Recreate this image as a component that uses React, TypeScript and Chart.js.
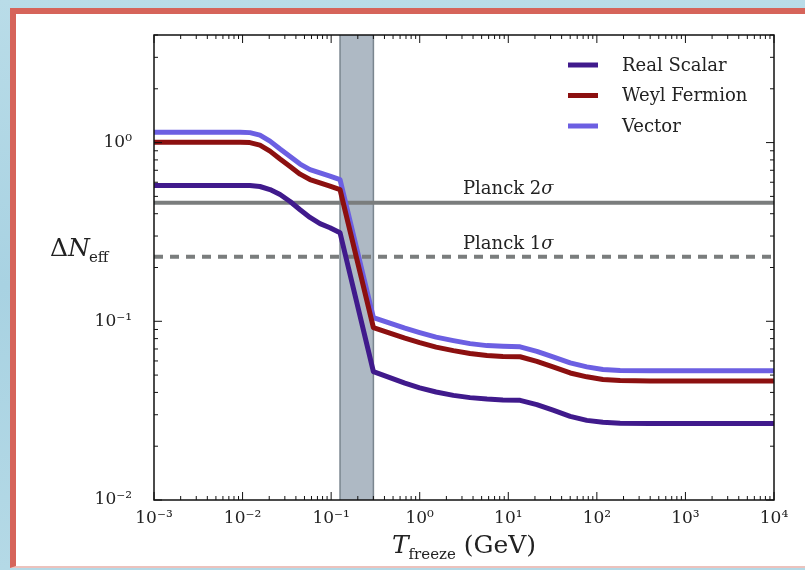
import React, { useEffect, useRef } from "react";
import { Chart, registerables } from "chart.js";

Chart.register(...registerables);

// ---- data ----
const temperatures = [
  0.001, 0.0094, 0.0121, 0.0157, 0.0204, 0.0265, 0.0344, 0.0446, 0.0577, 0.0748, 0.097, 0.126,
  0.3, 0.46, 0.68, 1.0, 1.53, 2.4, 3.7, 5.75, 8.7, 13.6, 21, 32, 50, 77, 117, 183, 400, 10000,
];
const realScalar = [
  0.575, 0.575, 0.575, 0.568, 0.546, 0.512, 0.468, 0.421, 0.381, 0.352, 0.334, 0.313,
  0.0523, 0.0484, 0.0451, 0.0424, 0.0402, 0.0385, 0.0374, 0.0367, 0.0363, 0.0361, 0.0342,
  0.0318, 0.0294, 0.0279, 0.0272, 0.0269, 0.0268, 0.0268,
];
const weylFermion = [
  1.004, 1.004, 1.0, 0.968, 0.896, 0.809, 0.734, 0.666, 0.621, 0.595, 0.571, 0.546,
  0.0922, 0.0859, 0.0805, 0.076, 0.0717, 0.0685, 0.066, 0.0643, 0.0636, 0.0633, 0.0597,
  0.0556, 0.0514, 0.0489, 0.0472, 0.0466, 0.0464, 0.0464,
];
const vectorField = [
  1.142, 1.142, 1.137, 1.101, 1.019, 0.92, 0.835, 0.758, 0.706, 0.677, 0.65, 0.621,
  0.1049, 0.0977, 0.0916, 0.0865, 0.0816, 0.078, 0.075, 0.0731, 0.0724, 0.072, 0.0679,
  0.0632, 0.0585, 0.0556, 0.0537, 0.053, 0.0528, 0.0528,
];
const seriesLabels = ["Real Scalar", "Weyl Fermion", "Vector"];
const planckLabels = ["Planck 2σ", "Planck 1σ"];
const planck2Sigma = 0.46;
const planck1Sigma = 0.23;
const planckLabelAt = 10;
const qcdBand = [0.126, 0.3];
const xRange = [1e-3, 1e4];
const yRange = [1e-2, 4];
const xTickExponents = [-3, -2, -1, 0, 1, 2, 3, 4];
const yTickExponents = [-2, -1, 0];

const SERIF = "'DejaVu Serif', 'Liberation Serif', serif";
const SUP: Record<string, string> = {
  "-": "⁻", "0": "⁰", "1": "¹", "2": "²", "3": "³", "4": "⁴",
  "5": "⁵", "6": "⁶", "7": "⁷", "8": "⁸", "9": "⁹",
};
const powLabel = (v: number) => {
  const e = Math.round(Math.log10(v));
  return "10" + String(e).split("").map((c) => SUP[c] || c).join("");
};

const decorPlugin = {
  id: "decor",
  beforeDatasetsDraw(chart: any) {
    const { ctx, chartArea: a, scales } = chart;
    const x0 = scales.x.getPixelForValue(qcdBand[0]);
    const x1 = scales.x.getPixelForValue(qcdBand[1]);
    ctx.save();
    ctx.fillStyle = "#aeb9c4";
    ctx.fillRect(x0, a.top, x1 - x0, a.bottom - a.top);
    ctx.strokeStyle = "#7b868f";
    ctx.lineWidth = 1.5;
    ctx.beginPath();
    ctx.moveTo(x0, a.top);
    ctx.lineTo(x0, a.bottom);
    ctx.moveTo(x1, a.top);
    ctx.lineTo(x1, a.bottom);
    ctx.stroke();
    ctx.restore();
  },
  afterDatasetsDraw(chart: any) {
    const { ctx, chartArea: a, scales } = chart;
    const xs = scales.x;
    const ys = scales.y;
    ctx.save();
    // frame
    ctx.strokeStyle = "#111";
    ctx.lineWidth = 1.5;
    ctx.strokeRect(a.left, a.top, a.right - a.left, a.bottom - a.top);
    // ticks (inward on all sides)
    ctx.lineWidth = 1;
    ctx.beginPath();
    const tickSet = (min: number, max: number) => {
      const out: { v: number; major: boolean }[] = [];
      for (let e = Math.floor(Math.log10(min)); e <= Math.ceil(Math.log10(max)); e++) {
        for (let m = 1; m <= 9; m++) {
          const v = m * Math.pow(10, e);
          if (v >= min * 0.999 && v <= max * 1.001) out.push({ v, major: m === 1 });
        }
      }
      return out;
    };
    for (const t of tickSet(xRange[0], xRange[1])) {
      const px = xs.getPixelForValue(t.v);
      const len = t.major ? 8 : 4;
      ctx.moveTo(px, a.bottom);
      ctx.lineTo(px, a.bottom - len);
      ctx.moveTo(px, a.top);
      ctx.lineTo(px, a.top + len);
    }
    for (const t of tickSet(yRange[0], yRange[1])) {
      const py = ys.getPixelForValue(t.v);
      const len = t.major ? 8 : 4;
      ctx.moveTo(a.left, py);
      ctx.lineTo(a.left + len, py);
      ctx.moveTo(a.right, py);
      ctx.lineTo(a.right - len, py);
    }
    ctx.stroke();

    // Planck labels (italic sigma)
    ctx.fillStyle = "#222";
    ctx.textBaseline = "alphabetic";
    ctx.textAlign = "left";
    const lx = xs.getPixelForValue(planckLabelAt);
    const drawPlanck = (label: string, y: number) => {
      const head = label.slice(0, -1);
      const tail = label.slice(-1);
      ctx.font = `18px ${SERIF}`;
      const wh = ctx.measureText(head).width;
      ctx.font = `italic 18px ${SERIF}`;
      const wt = ctx.measureText(tail).width;
      const sx = lx - (wh + wt) / 2;
      ctx.font = `18px ${SERIF}`;
      ctx.fillText(head, sx, y);
      ctx.font = `italic 18px ${SERIF}`;
      ctx.fillText(tail, sx + wh, y);
    };
    drawPlanck(planckLabels[0], ys.getPixelForValue(planck2Sigma) - 9);
    drawPlanck(planckLabels[1], ys.getPixelForValue(planck1Sigma) - 8);

    // legend
    const ds = chart.data.datasets.slice(0, 3);
    ctx.textAlign = "left";
    ctx.textBaseline = "middle";
    ctx.font = `18px ${SERIF}`;
    ds.forEach((d: any, i: number) => {
      const y = a.top + 30 + i * 30.5;
      ctx.strokeStyle = d.borderColor;
      ctx.lineWidth = 5;
      ctx.beginPath();
      ctx.moveTo(a.right - 206, y);
      ctx.lineTo(a.right - 176, y);
      ctx.stroke();
      ctx.fillStyle = "#222";
      ctx.fillText(d.label, a.right - 152, y + 1);
    });

    // axis titles
    ctx.fillStyle = "#222";
    ctx.textBaseline = "alphabetic";
    const cx = (a.left + a.right) / 2;
    const base = 553;
    const fBig = `25px ${SERIF}`;
    const fBigI = `italic 25px ${SERIF}`;
    const fSub = `15px ${SERIF}`;
    ctx.font = fBigI;
    const wT = ctx.measureText("T").width;
    ctx.font = fSub;
    const wS = ctx.measureText("freeze").width;
    ctx.font = fBig;
    const wG = ctx.measureText(" (GeV)").width;
    let sx = cx - (wT + wS + wG) / 2;
    ctx.textAlign = "left";
    ctx.font = fBigI;
    ctx.fillText("T", sx, base);
    sx += wT;
    ctx.font = fSub;
    ctx.fillText("freeze", sx, base + 6);
    sx += wS;
    ctx.font = fBig;
    ctx.fillText(" (GeV)", sx, base);

    const yb = 256;
    let yx = 50;
    ctx.font = fBig;
    ctx.fillText("Δ", yx, yb);
    yx += ctx.measureText("Δ").width;
    ctx.font = fBigI;
    ctx.fillText("N", yx, yb);
    yx += ctx.measureText("N").width;
    ctx.font = fSub;
    ctx.fillText("eff", yx - 1, yb + 6);
    ctx.restore();
  },
};

export default function App() {
  const ref = useRef<HTMLCanvasElement | null>(null);
  useEffect(() => {
    if (!ref.current) return;
    const mk = (vals: number[]) => temperatures.map((t, i) => ({ x: t, y: vals[i] }));
    const flat = (v: number) => [{ x: xRange[0], y: v }, { x: xRange[1], y: v }];
    const curve = { borderWidth: 5, pointRadius: 0, tension: 0, borderJoinStyle: "round" as const };
    const chart = new Chart(ref.current, {
      type: "line",
      data: {
        datasets: [
          { label: seriesLabels[0], data: mk(realScalar), borderColor: "#401a8c", ...curve },
          { label: seriesLabels[1], data: mk(weylFermion), borderColor: "#8c1010", ...curve },
          { label: seriesLabels[2], data: mk(vectorField), borderColor: "#6c5fe2", ...curve },
          { label: planckLabels[0], data: flat(planck2Sigma), borderColor: "#7a7d7d", borderWidth: 4, pointRadius: 0 },
          { label: planckLabels[1], data: flat(planck1Sigma), borderColor: "#7a7d7d", borderWidth: 4, borderDash: [9, 7], pointRadius: 0 },
        ],
      },
      options: {
        responsive: false,
        animation: false,
        devicePixelRatio: 1,
        layout: { padding: { left: 0, top: 35, right: 31, bottom: 0 } },
        plugins: { legend: { display: false }, tooltip: { enabled: false } },
        scales: {
          x: {
            type: "logarithmic",
            min: xRange[0],
            max: xRange[1],
            grid: { display: false, drawTicks: false },
            border: { display: false },
            afterBuildTicks: (s: any) => {
              s.ticks = xTickExponents.map((e) => ({ value: Math.pow(10, e) }));
            },
            afterFit: (s: any) => {
              s.height = 70;
            },
            ticks: {
              autoSkip: false,
              maxRotation: 0,
              padding: 8,
              color: "#222",
              font: { family: SERIF, size: 17 },
              callback: (v: any) => powLabel(Number(v)),
            },
          },
          y: {
            type: "logarithmic",
            min: yRange[0],
            max: yRange[1],
            grid: { display: false, drawTicks: false },
            border: { display: false },
            afterBuildTicks: (s: any) => {
              s.ticks = yTickExponents.map((e) => ({ value: Math.pow(10, e) }));
            },
            afterFit: (s: any) => {
              s.width = 154;
            },
            ticks: {
              autoSkip: false,
              padding: 22,
              color: "#222",
              font: { family: SERIF, size: 17 },
              callback: (v: any) => powLabel(Number(v)),
            },
          },
        },
      },
      plugins: [decorPlugin],
    });
    return () => chart.destroy();
  }, []);

  return (
    <div
      style={{
        position: "fixed",
        left: 0,
        top: 0,
        width: 805,
        height: 570,
        overflow: "hidden",
        background: "linear-gradient(180deg, #b9dce8 0%, #a8d2e2 50%, #b4d9e6 100%)",
      }}
    >
      <div
        style={{
          position: "absolute",
          left: 10,
          top: 8,
          width: 820,
          height: 560,
          background: "#fff",
          borderTop: "6px solid #d6645a",
          borderLeft: "6px solid #d6645a",
          borderBottom: "2px solid #ecc2bd",
          boxSizing: "border-box",
        }}
      />
      <canvas ref={ref} width={805} height={570} style={{ position: "absolute", left: 0, top: 0 }} />
    </div>
  );
}
